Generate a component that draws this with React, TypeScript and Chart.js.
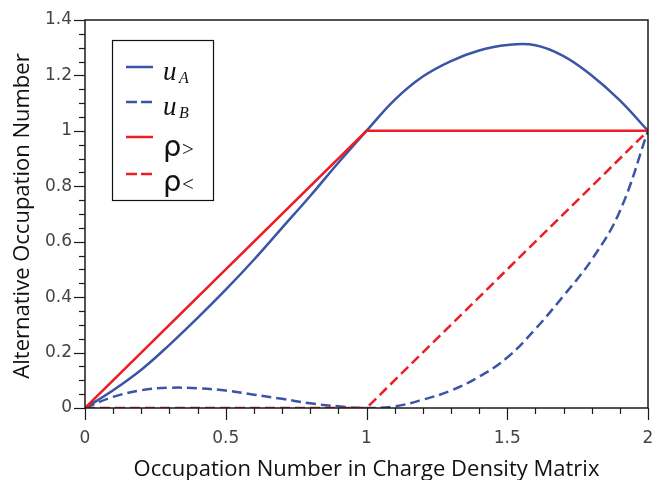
import React, { useEffect, useRef } from "react";
import { Chart, registerables } from "chart.js";

Chart.register(...registerables);

// Data
const xs = [0, 0.1, 0.2, 0.3, 0.4, 0.5, 0.6, 0.7, 0.8, 0.9, 1.0, 1.1, 1.2, 1.3, 1.4, 1.5, 1.6, 1.7, 1.8, 1.9, 2.0];
const uA = [0, 0.064, 0.138, 0.228, 0.325, 0.427, 0.535, 0.65, 0.765, 0.885, 1.0, 1.112, 1.196, 1.252, 1.29, 1.31, 1.309, 1.27, 1.2, 1.11, 1.0];
const uB = [0, 0.04, 0.064, 0.073, 0.071, 0.063, 0.048, 0.033, 0.017, 0.006, 0, 0.006, 0.03, 0.063, 0.113, 0.182, 0.285, 0.405, 0.535, 0.71, 1.0];
const rhoX = [0, 1, 2];
const rhoGt = [0, 1, 1];
const rhoLt = [0, 0, 1];

const yTicks = [0, 0.2, 0.4, 0.6, 0.8, 1, 1.2, 1.4];
const xTicks = [0, 0.5, 1, 1.5, 2];
const yMinorStep = 0.05;
const xMinorStep = 0.1;

const xTitle = "Occupation Number in Charge Density Matrix";
const yTitle = "Alternative Occupation Number";

const BLUE = "#3a55a5";
const RED = "#ee1c25";
const TITLE_FONT = "22px 'Open Sans', 'Noto Sans', sans-serif";
const TICK_FONT = "17px 'DejaVu Sans', sans-serif";

const pts = (x: number[], y: number[]) => x.map((v, i) => ({ x: v, y: y[i] }));
const fmt = (v: number) => String(Number(v.toFixed(2)));

const framePlugin = {
  id: "frame",
  afterDraw(chart: any) {
    const { ctx, chartArea: a, scales } = chart;
    const sx = scales.x;
    const sy = scales.y;
    ctx.save();
    ctx.strokeStyle = "#1a1a1a";
    ctx.lineWidth = 1.5;
    ctx.strokeRect(a.left, a.top, a.right - a.left, a.bottom - a.top);
    ctx.lineWidth = 1.2;
    const nY = Math.round((sy.max - sy.min) / yMinorStep);
    for (let i = 0; i <= nY; i++) {
      const v = sy.min + i * yMinorStep;
      const p = Math.round(sy.getPixelForValue(v)) + 0.5;
      const major = yTicks.some((t) => Math.abs(t - v) < 1e-6);
      const len = major ? 11 : 6;
      ctx.beginPath();
      ctx.moveTo(a.left - len, p);
      ctx.lineTo(a.left, p);
      ctx.stroke();
    }
    const nX = Math.round((sx.max - sx.min) / xMinorStep);
    for (let i = 0; i <= nX; i++) {
      const v = sx.min + i * xMinorStep;
      const p = Math.round(sx.getPixelForValue(v)) + 0.5;
      const major = xTicks.some((t) => Math.abs(t - v) < 1e-6);
      const len = major ? 12 : 6;
      ctx.beginPath();
      ctx.moveTo(p, a.bottom);
      ctx.lineTo(p, a.bottom + len);
      ctx.stroke();
    }
    ctx.fillStyle = "#444";
    ctx.font = TICK_FONT;
    ctx.textAlign = "right";
    ctx.textBaseline = "middle";
    yTicks.forEach((t) => ctx.fillText(fmt(t), a.left - 13, sy.getPixelForValue(t)));
    ctx.textAlign = "center";
    xTicks.forEach((t) => ctx.fillText(fmt(t), sx.getPixelForValue(t), a.bottom + 31));
    ctx.fillStyle = "#111";
    ctx.font = TITLE_FONT;
    ctx.textBaseline = "alphabetic";
    ctx.fillText(xTitle, (a.left + a.right) / 2, 476);
    ctx.save();
    ctx.translate(29, (a.top + a.bottom) / 2 + 2);
    ctx.rotate(-Math.PI / 2);
    ctx.fillText(yTitle, 0, 0);
    ctx.restore();

    // legend
    const lx = a.left + 27;
    const ly = a.top + 20;
    ctx.lineWidth = 1.2;
    ctx.strokeStyle = "#111";
    ctx.strokeRect(lx + 0.5, ly + 0.5, 101, 160);
    const items = [
      { color: BLUE, dash: [] as number[], y: 67 },
      { color: BLUE, dash: [11, 4], y: 102 },
      { color: RED, dash: [] as number[], y: 137 },
      { color: RED, dash: [11, 4], y: 174 },
    ];
    items.forEach((it) => {
      ctx.beginPath();
      ctx.setLineDash(it.dash);
      ctx.strokeStyle = it.color;
      ctx.lineWidth = 2.5;
      ctx.moveTo(lx + 14, it.y);
      ctx.lineTo(lx + 41, it.y);
      ctx.stroke();
    });
    ctx.setLineDash([]);
    ctx.fillStyle = "#111";
    ctx.textAlign = "left";
    ctx.textBaseline = "alphabetic";
    const serif = "'Liberation Serif', 'DejaVu Serif', serif";
    ctx.font = `italic 27px ${serif}`;
    ctx.fillText("u", lx + 51, 80);
    ctx.fillText("u", lx + 51, 115);
    ctx.font = `italic 16px ${serif}`;
    ctx.fillText("A", lx + 67, 83);
    ctx.fillText("B", lx + 67, 118);
    ctx.font = `29px 'DejaVu Sans', sans-serif`;
    ctx.fillText("ρ", lx + 51, 156);
    ctx.fillText("ρ", lx + 51, 191);
    ctx.font = `21px ${serif}`;
    ctx.fillText(">", lx + 70, 156);
    ctx.fillText("<", lx + 70, 191);
    ctx.restore();
  },
};

export default function App() {
  const ref = useRef<HTMLCanvasElement>(null);
  useEffect(() => {
    document.body.style.margin = "0";
    const chart = new Chart(ref.current!, {
      type: "line",
      data: {
        datasets: [
          { label: "rho>", data: pts(rhoX, rhoGt), borderColor: RED, borderWidth: 2.5, tension: 0, pointRadius: 0 },
          { label: "rho<", data: pts(rhoX, rhoLt), borderColor: RED, borderWidth: 2.5, borderDash: [10, 5], tension: 0, pointRadius: 0 },
          { label: "uA", data: pts(xs, uA), borderColor: BLUE, borderWidth: 2.5, tension: 0.4, pointRadius: 0 },
          { label: "uB", data: pts(xs, uB), borderColor: BLUE, borderWidth: 2.5, borderDash: [10, 5], tension: 0.4, pointRadius: 0 },
        ],
      },
      options: {
        animation: false,
        responsive: false,
        layout: { padding: { top: 20, right: 4, left: 0, bottom: 0 } },
        plugins: { legend: { display: false }, tooltip: { enabled: false } },
        scales: {
          x: {
            type: "linear",
            min: 0,
            max: 2,
            grid: { display: false, drawTicks: false },
            border: { display: false },
            ticks: { display: false },
            afterFit: (s: any) => { s.height = 72; s.paddingLeft = 0; s.paddingRight = 0; },
          },
          y: {
            type: "linear",
            min: 0,
            max: 1.4,
            grid: { display: false, drawTicks: false },
            border: { display: false },
            ticks: { display: false },
            afterFit: (s: any) => { s.width = 85; s.paddingTop = 0; s.paddingBottom = 0; },
          },
        },
      },
      plugins: [framePlugin],
    });
    return () => chart.destroy();
  }, []);
  return <canvas ref={ref} width={652} height={480} style={{ display: "block" }} />;
}
